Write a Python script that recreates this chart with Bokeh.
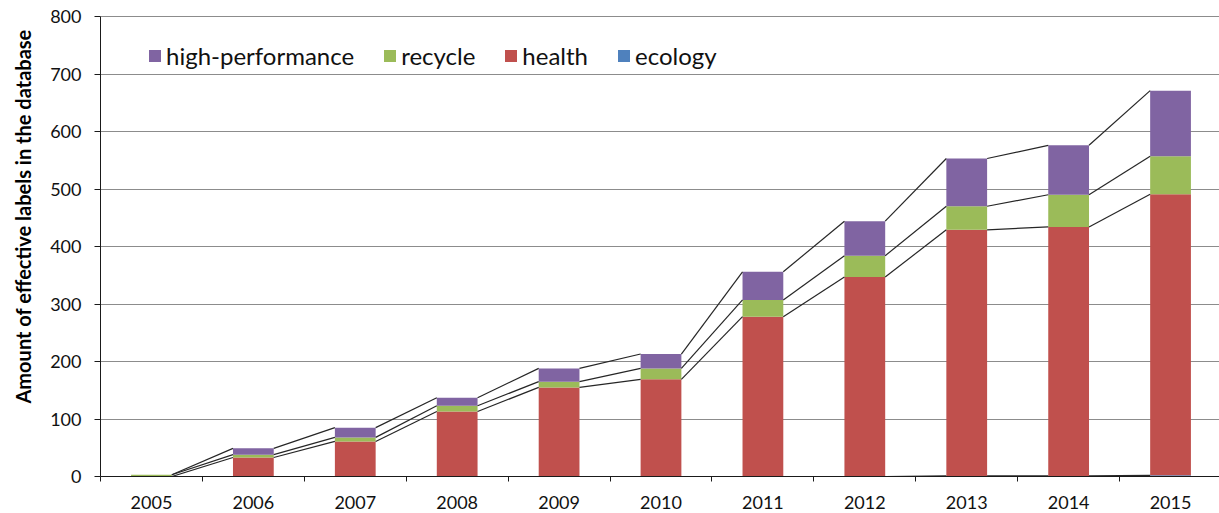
from bokeh.plotting import figure
from bokeh.models import (ColumnDataSource, Range1d, FixedTicker, Legend, LegendItem, Span, Title)
from bokeh.embed import file_html
from bokeh.resources import INLINE

years = ["2005", "2006", "2007", "2008", "2009", "2010", "2011", "2012", "2013", "2014", "2015"]
ecology = [0, 0, 0, 0, 0, 0, 0, 0, 1, 1, 2]
health = [0, 33, 61, 113, 155, 169, 278, 347, 428, 433, 489]
recycle = [3, 5, 7, 10, 10, 19, 29, 37, 41, 56, 66]
high_performance = [0, 11, 17, 14, 23, 25, 49, 60, 83, 86, 114]

series_names = ["ecology", "health", "recycle", "high-performance"]
series_colors = ["#4F81BD", "#C0504D", "#9BBB59", "#8064A2"]
y_ticks = [0, 100, 200, 300, 400, 500, 600, 700, 800]
y_title = "Amount of effective labels in the database"

BAR_W = 0.4
FONT = "Lato"

xs = list(range(len(years)))
source = ColumnDataSource(dict(x=xs, ecology=ecology, health=health,
                               recycle=recycle, **{"high-performance": high_performance}))

p = figure(width=1219, height=513, output_backend="svg", toolbar_location=None,
           x_range=Range1d(-0.5, -0.5 + 1120 / 102), y_range=Range1d(0, 800),
           min_border_left=99, min_border_top=16, min_border_bottom=37, min_border_right=0)
p.outline_line_color = None
p.background_fill_color = "white"

renderers = p.vbar_stack(series_names, x="x", width=BAR_W, color=series_colors,
                         line_color=None, source=source)

# series lines connecting segment tops between adjacent bars
cum = [0] * len(years)
for vals in [ecology, health, recycle, high_performance]:
    cum = [c + v for c, v in zip(cum, vals)]
    x0 = [i + BAR_W / 2 for i in xs[:-1]]
    x1 = [i + 1 - BAR_W / 2 for i in xs[:-1]]
    p.segment(x0=x0, y0=cum[:-1], x1=x1, y1=cum[1:], line_color="#262626", line_width=1.2)

# top border of plot area
p.add_layout(Span(location=800, dimension="width", line_color="#1a1a1a", line_width=1))

# x axis
xa = p.xaxis[0]
xa.ticker = FixedTicker(ticks=xs, minor_ticks=[i - 0.5 for i in range(len(years) + 1)])
xa.major_label_overrides = {i: y for i, y in enumerate(years)}
xa.major_tick_out = 0
xa.major_tick_in = 0
xa.minor_tick_out = 5
xa.minor_tick_in = 0
xa.minor_tick_line_color = "#1a1a1a"
xa.axis_line_color = "#1a1a1a"
xa.major_label_text_font = FONT
xa.major_label_text_font_size = "18px"
xa.major_label_text_color = "#111111"
xa.major_label_standoff = 14

# y axis
ya = p.yaxis[0]
ya.ticker = FixedTicker(ticks=y_ticks)
ya.minor_tick_line_color = None
ya.major_tick_out = 6
ya.major_tick_in = 0
ya.major_tick_line_color = "#1a1a1a"
ya.axis_line_color = "#1a1a1a"
ya.major_label_text_font = FONT
ya.major_label_text_font_size = "18px"
ya.major_label_text_color = "#111111"
ya.major_label_standoff = 13

# y title as a left-side title (allows positioning along the axis)
p.add_layout(Title(text=y_title, align="left", offset=73, standoff=21, vertical_align="top",
                   text_font=FONT, text_font_style="bold", text_font_size="20px",
                   text_color="#000000"), "left")

p.xgrid.grid_line_color = None
p.ygrid.ticker = FixedTicker(ticks=y_ticks)
p.ygrid.grid_line_color = "#8c8c8c"
p.ygrid.grid_line_width = 1

items = [LegendItem(label=name, renderers=[r]) for name, r in zip(series_names, renderers)]
items = items[::-1]
legend = Legend(items=items, orientation="horizontal", location=(47, 406),
                glyph_width=15, glyph_height=15, label_standoff=4, spacing=28,
                padding=0, margin=0, border_line_color=None, background_fill_alpha=0,
                label_text_font=FONT, label_text_font_size="24px", label_text_color="#111111")
p.add_layout(legend, "center")

open("out.html", "w").write(file_html(p, INLINE))
